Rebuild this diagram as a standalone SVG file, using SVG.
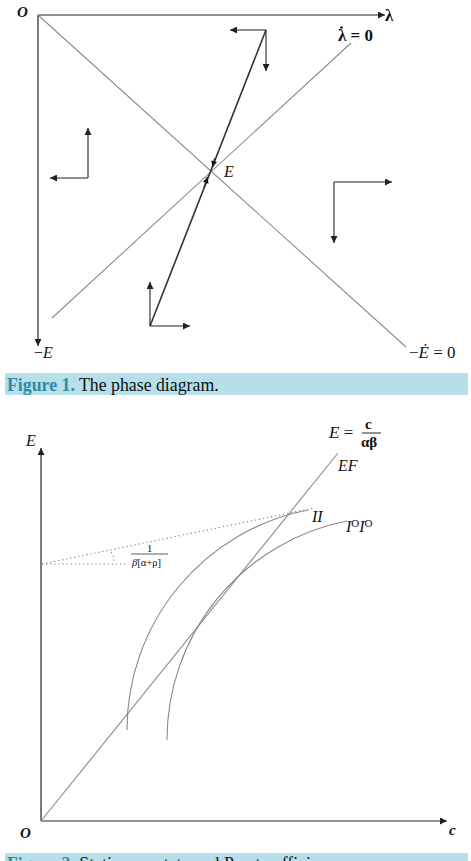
<svg xmlns="http://www.w3.org/2000/svg" width="471" height="861" viewBox="0 0 471 861">
<style>
.ax{stroke:#222;stroke-width:1.2;fill:none}
.gl{stroke:#8a8a8a;stroke-width:1.1;fill:none}
.sp{stroke:#333;stroke-width:1.6;fill:none}
.ar{stroke:#222;stroke-width:1.1;fill:none}
.dt{stroke:#888;stroke-width:1.1;fill:none;stroke-dasharray:1.3 2.8}
.t{font-family:"Liberation Serif",serif;fill:#111}
.i{font-style:italic}
.b{font-weight:bold}
.cap{font-family:"Liberation Serif",serif;font-size:17.8px;fill:#111}
.capf{fill:#2f8ba3;font-weight:bold}
</style>
<defs>
<marker id="ah" viewBox="0 0 10 10" refX="10" refY="5" markerWidth="8" markerHeight="7" markerUnits="userSpaceOnUse" orient="auto">
<path d="M0,0 L10,5 L0,10 Z" fill="#222"/>
</marker>
<marker id="ahs" viewBox="0 0 10 10" refX="10" refY="5" markerWidth="7" markerHeight="6" markerUnits="userSpaceOnUse" orient="auto">
<path d="M0,0 L10,5 L0,10 Z" fill="#111"/>
</marker>
</defs>

<g id="figure1">
<g id="f1-axes">
<line class="ax" x1="38" y1="15" x2="385" y2="15" marker-end="url(#ah)"/>
<line class="ax" x1="38" y1="15" x2="38" y2="346" marker-end="url(#ah)"/>
</g>
<g id="f1-connectors">
<line id="Edot0" class="gl" x1="38" y1="15" x2="406" y2="347"/>
<line id="lamdot0" class="gl" x1="52" y1="318" x2="351" y2="43"/>
<g id="saddle-path">
<line class="sp" x1="266" y1="30" x2="150" y2="326"/>
<line class="sp" x1="215" y1="158" x2="212.5" y2="167" marker-end="url(#ahs)"/>
<line class="sp" x1="204" y1="188" x2="207.5" y2="177" marker-end="url(#ahs)"/>
</g>
<g id="dir-top">
<line class="ar" x1="266" y1="30" x2="230" y2="30" marker-end="url(#ah)"/>
<line class="ar" x1="266" y1="30" x2="266" y2="71" marker-end="url(#ah)"/>
</g>
<g id="dir-left">
<line class="ar" x1="88" y1="178" x2="88" y2="128" marker-end="url(#ah)"/>
<line class="ar" x1="88" y1="178" x2="50" y2="178" marker-end="url(#ah)"/>
</g>
<g id="dir-right">
<line class="ar" x1="334" y1="182" x2="392" y2="182" marker-end="url(#ah)"/>
<line class="ar" x1="334" y1="182" x2="334" y2="243" marker-end="url(#ah)"/>
</g>
<g id="dir-bottom">
<line class="ar" x1="150" y1="326" x2="150" y2="282" marker-end="url(#ah)"/>
<line class="ar" x1="150" y1="326" x2="190" y2="326" marker-end="url(#ah)"/>
</g>
</g>
<g id="f1-labels">
<text class="t i b" x="17" y="17" font-size="15">O</text>
<text class="t b" x="385" y="21" font-size="17">λ</text>
<text class="t b" x="338" y="41" font-size="17">λ = 0</text>
<circle cx="341.5" cy="27.5" r="1.3" fill="#111"/>
<text class="t i" x="224" y="177" font-size="16">E</text>
<text class="t" x="34" y="358" font-size="16">−<tspan class="i">E</tspan></text>
<text class="t" x="409" y="358" font-size="17">−<tspan class="i">Ė</tspan> = 0</text>
</g>
</g>

<g id="caption1">
<rect x="5" y="373" width="463" height="22" fill="#b6dfea"/>
<text class="cap" x="7" y="391"><tspan class="capf">Figure 1.</tspan> The phase diagram.</text>
</g>

<g id="figure2">
<g id="f2-axes">
<line class="ax" x1="41" y1="821" x2="41" y2="448" marker-end="url(#ah)"/>
<line class="ax" x1="41" y1="821" x2="447" y2="821" marker-end="url(#ah)"/>
</g>
<g id="f2-connectors">
<line id="EF" class="gl" x1="41" y1="821" x2="338" y2="453"/>
<path id="II" class="gl" d="M127,730 A224,224 0 0 1 308,510"/>
<path id="IoIo" class="gl" d="M167,740 A223,223 0 0 1 347,521"/>
<line class="dt" x1="42" y1="564" x2="314" y2="508"/>
<line class="dt" x1="42" y1="564" x2="128" y2="564"/>
<path class="dt" d="M111,552 Q115,557 113,564"/>
</g>
<g id="f2-labels">
<text class="t i" x="26" y="446" font-size="16">E</text>
<text class="t" x="329" y="438" font-size="17"><tspan class="i">E</tspan> =</text>
<text class="t b" x="365" y="429" font-size="15">c</text>
<line x1="362" y1="433" x2="381" y2="433" stroke="#222" stroke-width="1"/>
<text class="t b" x="361" y="447" font-size="15">αβ</text>
<text class="t i" x="338" y="471" font-size="16">EF</text>
<text class="t i" x="312" y="522" font-size="16">II</text>
<text class="t i" x="346" y="532" font-size="16">I<tspan font-size="11" dy="-5" font-style="normal">O</tspan><tspan dy="5">I</tspan><tspan font-size="11" dy="-5" font-style="normal">O</tspan></text>
<text class="t" x="147" y="552" font-size="10.5">1</text>
<line x1="131" y1="554" x2="168" y2="554" stroke="#333" stroke-width="0.8"/>
<text class="t" x="132" y="566" font-size="10.5"><tspan class="i">β</tspan>[α+ρ]</text>
<text class="t i b" x="20" y="838" font-size="15">O</text>
<text class="t i b" x="449" y="835" font-size="15">c</text>
</g>
</g>

<g id="caption2">
<rect x="5" y="853" width="463" height="10" fill="#b6dfea"/>
<text class="cap" x="7" y="870"><tspan class="capf">Figure 2.</tspan> Stationary state and Pareto efficiency.</text>
</g>
</svg>
